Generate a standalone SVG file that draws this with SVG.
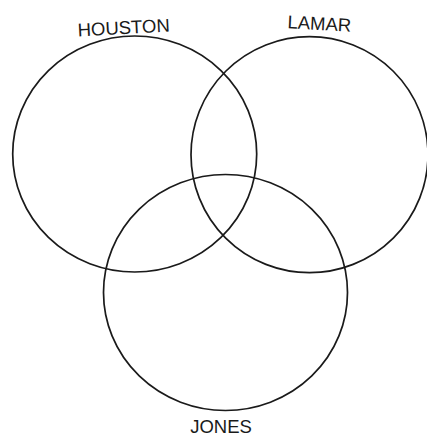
<svg xmlns="http://www.w3.org/2000/svg" width="427" height="436" viewBox="0 0 427 436">
<style>
.c{fill:none;stroke:#1a1a1a;stroke-width:1.7}
.t{font-family:"Liberation Sans",Arial,sans-serif;font-size:18.5px;fill:#1a1a1a;text-anchor:middle}
</style>
<rect width="427" height="436" fill="#fff"/>
<g id="houston"><ellipse class="c" cx="134.7" cy="154" rx="122" ry="118"/><text class="t" x="124" y="34" transform="rotate(-3 124 34)">HOUSTON</text></g>
<g id="lamar"><ellipse class="c" cx="309.5" cy="154.7" rx="118.5" ry="118"/><text class="t" x="319" y="30" transform="rotate(3 319 30)">LAMAR</text></g>
<g id="jones"><ellipse class="c" cx="225.5" cy="292.5" rx="122" ry="118"/><text class="t" x="221" y="433">JONES</text></g>
<g id="connectors"></g>
</svg>
